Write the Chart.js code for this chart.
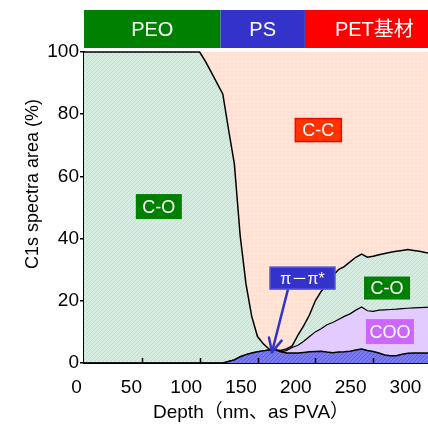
<!DOCTYPE html>
<html><head><meta charset="utf-8">
<script src="https://cdn.jsdelivr.net/npm/chart.js@4"></script>
<style>
html,body{margin:0;padding:0;background:#fff;overflow:hidden;}
#wrap{position:relative;width:470px;height:425px;}
</style></head><body>
<div id="wrap"><canvas id="c"></canvas></div>
<script>
// ---- data ----
const depth = [0,20,40,60,80,100,105,110,115,120,125,130,135,140,145,150,155,160,165,170,175,180,185,190,195,200,205,210,215,220,225,230,235,240,245,250,255,260,265,270,275,280,285,290,295,300];
const piPi  = [0,0,0,0,0,0,0,0,0,0,0.5,1,2,2.7,3.2,3.6,3.9,4.2,4.3,3.6,3.2,3.2,3.2,3.4,3.6,3.7,3.8,3.5,3.3,3.5,3.6,3.8,4.2,4.5,4.0,3.7,3.2,2.6,2.3,2.3,2.8,3.1,3.2,3.2,3.2,3.2];
const coo   = [0,0,0,0,0,0,0,0,0,0,0,0,0,0,0,0,0,0,0,0,0.8,1.8,2.5,3.6,4.9,6.3,7.2,8.8,9.7,10.5,11.4,12,12.8,13.5,12.8,12.9,13.8,14.5,14.9,15,14.7,14.5,14.5,14.6,14.7,14.8];
const cO    = [100,100,100,100,100,100,97,93.5,90,86.5,74.5,63,39,22.8,11.8,4.9,2.3,0.3,0,0.4,0.5,0.5,3.3,5,7,10,12,13.1,15,16,16,16.7,17,17,17.2,17.7,17.8,18.1,18.4,18.6,18.7,18.9,18.5,18.1,17.6,17.3];
const cC    = [0,0,0,0,0,0,3,6.5,10,13.5,25,36,59,74.5,85,91.5,93.8,95.5,95.7,96,95.5,94.5,91,88,84.5,80,77,74.6,72,70,69,67.5,66,65,66,65.7,65.2,64.8,64.4,64.1,63.8,63.5,63.8,64.1,64.5,64.7];
const xTickValues = [0,50,100,150,200,250,300];
const xInnerTicks = [50,100,150,200,250];
const layerNames = ['PEO','PS','PET基材'];
const layerEdges = [0,118,191,311];
const seriesNames = ['π-π*','COO','C-O','C-C'];

// annotation placement (data units) and styles
const notes = [
  {text:'C-O', x:64.7,  y:50.3, w:46, h:25, fill:'#008000', stroke:null},
  {text:'C-C', x:202.6, y:74.9, w:46, h:23, fill:'#ff3300', stroke:'#ff0000'},
  {text:'C-O', x:262,   y:24.1, w:46, h:23, fill:'#008000', stroke:null},
  {text:'COO', x:264.5, y:10.1, w:48, h:25, fill:'#cc66ff', stroke:null},
  {text:'π－π*', x:188.9, y:27.3, w:65, h:22, fill:'#3333cc', stroke:'#5555dd', small:true}
];
const arrow = {x0:176.4, y0:23.8, x1:162.5, y1:3.5};

const FONT = "'Liberation Sans','Noto Sans CJK JP',sans-serif";
Chart.defaults.font.family = FONT;

function pattern(bg, fg, kind){
  const c = document.createElement('canvas');
  c.width = 4; c.height = 4;
  const g = c.getContext('2d');
  g.fillStyle = bg; g.fillRect(0,0,4,4);
  g.fillStyle = fg;
  if (kind === 'diag') { for (let i=0;i<4;i++) g.fillRect(i,3-i,1,1); }
  else { g.fillRect(1,1,1,1); }
  return g.createPattern(c,'repeat');
}
const ctx0 = document.getElementById('c').getContext('2d');
const greenPat = pattern('#d6ece0','#c2dfcd','diag');
const peachPat = pattern('#ffe2d4','#fff4ee','dot');
const bluePat  = pattern('#7a7af2','#5d5de2','diag');

function pts(arr){ return arr.map((v,i)=>({x:depth[i], y:v})); }

const overlay = {
  id:'overlay',
  afterDatasetsDraw(chart){
    const {ctx, chartArea:a} = chart;
    const xs = chart.scales.x, ys = chart.scales.y;
    ctx.save();
    ctx.strokeStyle = '#000'; ctx.lineWidth = 1.5;
    xInnerTicks.forEach(v=>{
      const px = Math.round(xs.getPixelForValue(v))+0.5;
      ctx.beginPath(); ctx.moveTo(px, a.bottom); ctx.lineTo(px, a.bottom-5); ctx.stroke();
    });
    const ax0 = xs.getPixelForValue(arrow.x0), ay0 = ys.getPixelForValue(arrow.y0);
    const ax1 = xs.getPixelForValue(arrow.x1), ay1 = ys.getPixelForValue(arrow.y1);
    ctx.strokeStyle = '#3333cc'; ctx.lineWidth = 2.5; ctx.lineCap='round';
    ctx.beginPath(); ctx.moveTo(ax0, ay0); ctx.lineTo(ax1, ay1); ctx.stroke();
    const ang = Math.atan2(ay1-ay0, ax1-ax0);
    [0.45,-0.45].forEach(d=>{
      ctx.beginPath(); ctx.moveTo(ax1, ay1);
      ctx.lineTo(ax1 - 15*Math.cos(ang+d), ay1 - 15*Math.sin(ang+d)); ctx.stroke();
    });
    notes.forEach(n=>{
      const cx = xs.getPixelForValue(n.x), cy = ys.getPixelForValue(n.y);
      ctx.fillStyle = n.fill;
      ctx.fillRect(cx-n.w/2, cy-n.h/2, n.w, n.h);
      if (n.stroke){ ctx.strokeStyle=n.stroke; ctx.lineWidth=1.5; ctx.strokeRect(cx-n.w/2, cy-n.h/2, n.w, n.h); }
      ctx.fillStyle = '#fff';
      ctx.font = (n.small ? '16px ' : '18px ') + FONT;
      ctx.textAlign='center'; ctx.textBaseline='middle';
      ctx.fillText(n.text, cx, cy+1);
    });
    ctx.restore();
  },
  afterDraw(chart){
    const {ctx, chartArea:a} = chart;
    const xs = chart.scales.x;
    ctx.save();
    const colors = ['#008000','#3333cc','#ff0000'];
    for (let i=0;i<layerNames.length;i++){
      const l = xs.getPixelForValue(layerEdges[i]), r = xs.getPixelForValue(layerEdges[i+1]);
      ctx.fillStyle = colors[i];
      ctx.fillRect(l, 10, r-l, 38);
      ctx.fillStyle = '#fff'; ctx.font = '20px ' + FONT;
      ctx.textAlign='center'; ctx.textBaseline='middle';
      ctx.fillText(layerNames[i], (l+r)/2, 30);
    }
    ctx.fillStyle = '#000';
    ctx.font = '19px ' + FONT;
    ctx.textAlign='left'; ctx.textBaseline='middle';
    ctx.fillText('Depth（nm、as PVA）', a.left+69, 413);
    ctx.textAlign='center';
    ctx.translate(33, 184); ctx.rotate(-Math.PI/2);
    ctx.font = '18px ' + FONT;
    ctx.fillText('C1s spectra area (%)', 0, 0);
    ctx.restore();
  }
};

const colorsBg = [bluePat, '#e3cbff', greenPat, peachPat];
const series = [piPi, coo, cO, cC];
new Chart(ctx0, {
  type:'line',
  data:{
    datasets: series.map((s,i)=>({
      label: seriesNames[i],
      data: pts(s),
      xAxisID:'x', yAxisID:'y',
      fill: i===0 ? 'origin' : '-1',
      backgroundColor: colorsBg[i],
      borderColor: '#000',
      borderWidth: i===3 ? 0 : (i===1 ? 1.2 : 1.5),
      pointRadius: 0, tension: 0,
      clip: {left:0, top:2, right:0, bottom:0}
    }))
  },
  options:{
    responsive:true, maintainAspectRatio:false, animation:false, devicePixelRatio:1,
    layout:{padding:{top:52, left:0, right:39, bottom:0}},
    plugins:{legend:{display:false}, tooltip:{enabled:false}},
    scales:{
      x:{type:'linear', min:0, max:300, display:false},
      xt:{type:'linear', position:'bottom', min:6.75, max:323.3,
        afterBuildTicks: s => { s.ticks = xTickValues.map(v=>({value:v})); },
        afterFit: s => { s.height = 62; },
        grid:{drawOnChartArea:false, drawTicks:false},
        border:{display:true, color:'#000', width:2},
        ticks:{color:'#000', font:{size:19}, padding:13, maxRotation:0, autoSkip:false}
      },
      y:{stacked:true, min:0, max:100,
        afterFit: s => { s.width = 84; },
        grid:{drawOnChartArea:false, drawTicks:true, tickLength:4, color:'#000', lineWidth:1.5},
        border:{display:true, color:'#000', width:2},
        ticks:{stepSize:20, color:'#000', font:{size:19}, padding:1}
      }
    }
  },
  plugins:[overlay]
});
</script>
</body></html>
